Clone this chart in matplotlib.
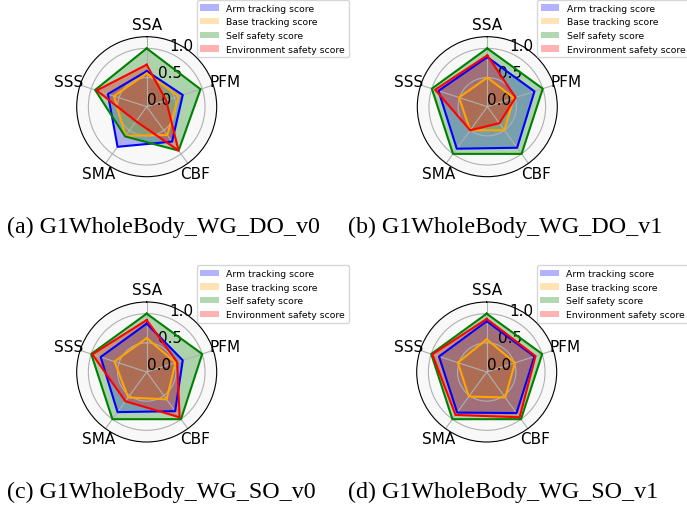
import numpy as np
import matplotlib
matplotlib.use('Agg')
from matplotlib import pyplot as plt

categories = ['SSA', 'PFM', 'CBF', 'SMA', 'SSS']
series_names = ['Arm tracking score', 'Base tracking score',
                'Self safety score', 'Environment safety score']
colors = ['blue', 'orange', 'green', 'red']

# (a) DO_v0
arm_a = [0.61, 0.65, 0.74, 0.85, 0.70]
base_a = [0.57, 0.58, 0.60, 0.62, 0.59]
self_a = [1.00, 0.97, 0.93, 0.63, 0.93]
env_a = [0.72, 0.35, 0.93, 0.31, 0.90]

# (b) DO_v1
arm_b = [0.85, 0.85, 0.87, 0.89, 0.88]
base_b = [0.50, 0.48, 0.50, 0.50, 0.51]
self_b = [1.00, 1.00, 1.00, 1.00, 1.00]
env_b = [0.88, 0.51, 0.35, 0.50, 0.94]

# (c) SO_v0
arm_c = [0.83, 0.65, 0.83, 0.85, 0.83]
base_c = [0.58, 0.52, 0.58, 0.54, 0.58]
self_c = [1.00, 1.00, 1.00, 1.00, 1.00]
env_c = [0.89, 0.55, 0.96, 0.62, 0.98]

# (d) SO_v1
arm_d = [0.87, 0.86, 0.87, 0.86, 0.86]
base_d = [0.56, 0.51, 0.54, 0.52, 0.52]
self_d = [1.00, 1.00, 1.00, 1.00, 1.00]
env_d = [0.91, 0.88, 0.96, 0.91, 0.98]

captions = ['(a) G1WholeBody_WG_DO_v0', '(b) G1WholeBody_WG_DO_v1',
            '(c) G1WholeBody_WG_SO_v0', '(d) G1WholeBody_WG_SO_v1']
panels = [[arm_a, base_a, self_a, env_a],
          [arm_b, base_b, self_b, env_b],
          [arm_c, base_c, self_c, env_c],
          [arm_d, base_d, self_d, env_d]]

W, H = 687, 506
fig = plt.figure(figsize=(W / 100, H / 100), dpi=100)

centers = [(146.7, 107.7), (487.3, 107.7), (146.7, 373.0), (486.7, 373.0)]
cap_pos = [(6.7, 233.3), (347.5, 233.3), (6.7, 498.3), (348.3, 498.3)]
R = 70

angles = np.linspace(0, 2 * np.pi, len(categories), endpoint=False)
angles_closed = np.concatenate([angles, angles[:1]])

for k in range(4):
    cx, cy = centers[k]
    ax = fig.add_axes([(cx - R) / W, (H - cy - R) / H, 2 * R / W, 2 * R / H],
                      projection='polar')
    ax.set_theta_offset(np.pi / 2)
    ax.set_theta_direction(-1)
    ax.set_facecolor('#f8f8f8')
    for vals, name, c in zip(panels[k], series_names, colors):
        v = np.concatenate([vals, vals[:1]])
        ax.fill(angles_closed, v, facecolor=c, edgecolor='none', alpha=0.3, label=name)
        ax.plot(angles_closed, v, color=c, linewidth=1.5)
    ax.set_xticks(angles)
    ax.set_xticklabels(categories, fontsize=11)
    ax.tick_params(axis='x', pad=-1.5)
    ax.set_ylim(0, 1.2)
    ax.set_yticks([0.0, 0.5, 1.0])
    ax.set_yticklabels(['0.0', '0.5', '1.0'], fontsize=11)
    ax.legend(loc='upper left', bbox_to_anchor=(0.857, 1.261), borderaxespad=0,
              fontsize=6.65)
    x, y = cap_pos[k]
    fig.text(x / W, 1 - y / H, captions[k], family='Liberation Serif',
             fontsize=17.3, ha='left', va='baseline')

fig.savefig('out.png', dpi=100)
